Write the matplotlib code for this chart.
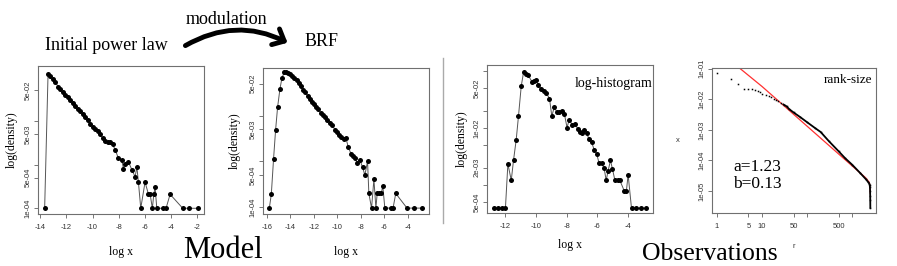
import numpy as np
import matplotlib.pyplot as plt
from matplotlib.patches import FancyArrowPatch
from matplotlib.lines import Line2D
from matplotlib.ticker import NullLocator

#==============================================================================#
# Dados (expoentes = log10 da densidade)
#==============================================================================#
# Initial power law
p1_x = [-13.67, -13.41, -13.23, -13.03, -12.85, -12.65, -12.47, -12.29, -12.09, -11.91,
        -11.70, -11.53, -11.32, -11.14, -10.94, -10.76, -10.56, -10.38, -10.17, -9.99,
        -9.79, -9.61, -9.41, -9.23, -9.03, -8.85, -8.64, -8.46, -8.26, -8.01,
        -7.75, -7.63, -7.50, -7.24, -6.98, -6.73, -6.60, -6.48, -6.30, -5.97,
        -5.71, -5.58, -5.41, -5.30, -5.20, -5.07, -4.57, -4.36, -4.05, -3.08,
        -2.58, -1.93]
p1_e = [-4.00, -0.93, -0.98, -1.05, -1.10, -1.22, -1.26, -1.35, -1.40, -1.46,
        -1.52, -1.59, -1.67, -1.73, -1.78, -1.84, -1.92, -1.99, -2.07, -2.13,
        -2.18, -2.23, -2.31, -2.39, -2.45, -2.48, -2.48, -2.54, -2.66, -2.86,
        -2.90, -3.09, -2.98, -2.94, -3.12, -3.28, -3.05, -3.40, -4.00, -3.40,
        -3.68, -3.68, -4.00, -3.68, -3.52, -4.00, -4.00, -4.00, -3.68, -4.00,
        -4.00, -4.00]

# BRF
p2_x = [-15.80, -15.63, -15.44, -15.27, -15.10, -14.90, -14.73, -14.53, -14.39, -14.22,
        -14.05, -13.88, -13.68, -13.46, -13.29, -13.12, -12.95, -12.75, -12.55, -12.38,
        -12.19, -11.99, -11.82, -11.62, -11.42, -11.25, -11.06, -10.86, -10.63, -10.46,
        -10.21, -10.07, -9.84, -9.67, -9.45, -9.28, -9.08, -8.85, -8.66, -8.49,
        -8.32, -8.09, -7.86, -7.67, -7.44, -7.33, -7.10, -6.90, -6.73, -6.62,
        -6.45, -6.28, -6.14, -5.97, -5.46, -5.27, -5.04, -4.08, -3.51, -2.78]
p2_e = [-4.02, -3.71, -2.94, -2.32, -1.82, -1.42, -1.18, -1.05, -1.05, -1.07,
        -1.10, -1.13, -1.18, -1.21, -1.29, -1.36, -1.43, -1.49, -1.56, -1.64,
        -1.71, -1.75, -1.80, -1.86, -1.94, -1.98, -2.03, -2.09, -2.15, -2.20,
        -2.31, -2.35, -2.42, -2.47, -2.51, -2.49, -2.69, -2.83, -2.89, -2.93,
        -3.04, -2.97, -3.13, -3.30, -3.00, -3.70, -4.02, -3.39, -4.02, -3.70,
        -3.70, -3.70, -3.54, -4.02, -4.02, -4.02, -3.70, -4.02, -4.02, -4.02]

# log-histogram (observações)
p3_x = [-12.76, -12.48, -12.22, -11.99, -11.83, -11.61, -11.46, -11.29, -11.14, -10.96,
        -10.81, -10.68, -10.53, -10.27, -10.12, -9.99, -9.84, -9.66, -9.51, -9.34,
        -9.12, -8.97, -8.80, -8.65, -8.50, -8.32, -8.15, -7.98, -7.83, -7.63,
        -7.46, -7.29, -7.14, -6.98, -6.85, -6.70, -6.55, -6.38, -6.21, -6.05,
        -5.90, -5.73, -5.56, -5.43, -5.30, -5.15, -5.02, -4.86, -4.69, -4.54,
        -4.26, -4.11, -4.00, -3.78, -3.46, -3.13, -2.81]
p3_e = [-3.41, -3.41, -3.41, -3.41, -2.63, -2.92, -2.56, -2.21, -1.79, -1.26,
        -1.02, -1.04, -1.06, -1.18, -1.17, -1.16, -1.25, -1.31, -1.35, -1.38,
        -1.48, -1.79, -1.62, -1.72, -1.72, -1.70, -1.75, -1.99, -1.85, -1.95,
        -1.92, -2.01, -2.07, -2.09, -2.04, -2.08, -2.20, -2.25, -2.38, -2.45,
        -2.61, -2.61, -2.71, -2.92, -2.75, -2.57, -2.72, -2.92, -2.92, -2.92,
        -3.10, -3.10, -2.82, -3.41, -3.41, -3.41, -3.41]

# rank-size
rank = [1, 2, 3, 4, 5, 6, 7, 8, 9, 10, 12, 14, 16, 18, 20, 23, 26, 30, 35, 40,
        50, 70, 100, 150, 200, 300, 500, 700, 1000, 1500, 2000, 2300, 2400, 2450,
        2480, 2500, 2510, 2520, 2530]
size_e = [-1.15, -1.35, -1.49, -1.65, -1.65, -1.67, -1.69, -1.74, -1.77, -1.81,
          -1.85, -1.89, -1.94, -1.98, -2.02, -2.06, -2.12, -2.17, -2.23, -2.32,
          -2.43, -2.58, -2.75, -2.94, -3.07, -3.36, -3.70, -3.93, -4.14, -4.41,
          -4.61, -4.72, -4.76, -4.80, -4.88, -5.00, -5.15, -5.30, -5.55]
fit_r = [3.0, 10, 30, 100, 300, 1000, 2000, 2400, 2500, 2530]
fit_e = [-0.95, -1.58, -2.20, -2.88, -3.50, -4.18, -4.57, -4.72, -4.89, -5.08]

#==============================================================================#
# Figura
#==============================================================================#
plt.rcParams['font.family'] = ['Liberation Serif', 'DejaVu Serif']
W, H = 897., 266.
fig = plt.figure(figsize=(W/100, H/100), dpi=100)

def eixo(l, t, r, b):
    ax = fig.add_axes([l/W, 1 - b/H, (r - l)/W, (b - t)/H])
    for s in ax.spines.values():
        s.set_color('#707070')
        s.set_linewidth(0.8)
    ax.tick_params(direction='out', length=3, width=0.6, color='#606060',
                   labelsize=5.5, labelcolor='#333333')
    return ax

def marcas(ax, xt, yt, ylab):
    ax.set_yscale('log')
    ax.set_xticks(xt)
    ax.set_xticklabels([str(v) for v in xt], family='Liberation Sans')
    ax.set_yticks(yt)
    ax.set_yticklabels(ylab, rotation=90, va='center', family='Liberation Sans')
    ax.yaxis.set_minor_locator(NullLocator())
    ax.tick_params(axis='x', pad=4)
    ax.tick_params(axis='y', pad=1.5)

def hist(ax, x, e):
    ax.plot(x, 10**np.array(e), '-', color='#555555', lw=0.7)
    ax.plot(x, 10**np.array(e), 'o', color='black', ms=3.6, mec='none')

# Painel 1
ax1 = eixo(38, 66, 204, 214)
hist(ax1, p1_x, p1_e)
marcas(ax1, [-14, -12, -10, -8, -6, -4, -2], [1e-4, 5e-4, 1e-3, 5e-3, 1e-2, 5e-2],
       ['1e-04', '5e-04', '', '5e-03', '', '5e-02'])
ax1.set_xlim(-14.18, -1.45)
ax1.set_ylim(7.4e-5, 0.18)
ax1.text(-0.157, 0.5, 'log(density)', rotation=90, fontsize=8.5, ha='center',
         va='center', transform=ax1.transAxes)
ax1.text(0.5, -0.257, 'log x', fontsize=8.5, ha='center', va='center',
         transform=ax1.transAxes)

# Painel 2
ax2 = eixo(263, 68, 429, 214)
hist(ax2, p2_x, p2_e)
marcas(ax2, [-16, -14, -12, -10, -8, -6, -4], [1e-4, 5e-4, 1e-3, 5e-3, 1e-2, 5e-2],
       ['1e-04', '5e-04', '', '5e-03', '', '5e-02'])
ax2.set_xlim(-16.34, -2.21)
ax2.set_ylim(7.1e-5, 0.110)
ax2.text(-0.169, 0.5, 'log(density)', rotation=90, fontsize=8.5, ha='center',
         va='center', transform=ax2.transAxes)
ax2.text(0.5, -0.26, 'log x', fontsize=8.5, ha='center', va='center',
         transform=ax2.transAxes)

# Painel 3
ax3 = eixo(487, 65, 653, 213)
hist(ax3, p3_x, p3_e)
marcas(ax3, [-12, -10, -8, -6, -4],
       [5e-4, 1e-3, 2e-3, 5e-3, 1e-2, 2e-2, 5e-2, 1e-1],
       ['5e-04', '', '2e-03', '', '1e-02', '', '5e-02', ''])
ax3.set_xlim(-13.19, -2.38)
ax3.set_ylim(3.2e-4, 0.129)
ax3.text(-0.15, 0.5, 'log(density)', rotation=90, fontsize=8.5, ha='center',
         va='center', transform=ax3.transAxes)
ax3.text(0.5, -0.216, 'log x', fontsize=8.5, ha='center', va='center',
         transform=ax3.transAxes)
ax3.text(0.995, 0.876, 'log-histogram', fontsize=10, ha='right', va='center',
         transform=ax3.transAxes)

# Painel 4
ax4 = eixo(712, 68, 876, 213)
ax4.set_xscale('log')
ax4.plot(fit_r, 10**np.array(fit_e), '-', color='#ff3030', lw=0.9)
ax4.plot(rank[17:], 10**np.array(size_e[17:]), '-', color='black', lw=1.3)
ax4.plot(rank, 10**np.array(size_e), 's', color='black', ms=1.1, mec='none')
marcas(ax4, [1, 5, 10, 50, 100, 500, 1000], [1e-5, 1e-4, 1e-3, 1e-2, 1e-1],
       ['1e-05', '1e-04', '1e-03', '1e-02', '1e-01'])
ax4.set_xticklabels(['1', '5', '10', '50', '', '500', ''], family='Liberation Sans')
ax4.xaxis.set_minor_locator(NullLocator())
ax4.set_xlim(0.775, 3380)
ax4.set_ylim(1.9e-6, 0.106)
ax4.text(0.98, 0.917, 'rank-size', fontsize=9.5, ha='right', va='center',
         transform=ax4.transAxes)
ax4.text(0.128, 0.317, 'a=1.23', fontsize=12.5, ha='left', va='center',
         transform=ax4.transAxes)
ax4.text(0.128, 0.2, 'b=0.13', fontsize=12.5, ha='left', va='center',
         transform=ax4.transAxes)
fig.text(678/W, 1 - 140/H, 'x', fontsize=5.5, family='Liberation Sans',
         color='#333333', ha='center', va='center')
fig.text(794/W, 1 - 246/H, 'r', fontsize=5.5, family='Liberation Sans',
         color='#333333', ha='center', va='center')

#==============================================================================#
# Textos e seta
#==============================================================================#
fig.text(45/W, 1 - 45/H, 'Initial power law', fontsize=13, ha='left', va='center')
fig.text(226/W, 1 - 20/H, 'modulation', fontsize=13, ha='center', va='center')
fig.text(305/W, 1 - 42/H, 'BRF', fontsize=13, ha='left', va='center')
seta = FancyArrowPatch((183/W, 1 - 47/H), (290/W, 1 - 44/H),
                       transform=fig.transFigure, connectionstyle='arc3,rad=-0.28',
                       arrowstyle='->,head_length=0.5,head_width=0.45',
                       lw=3.5, color='black', mutation_scale=14)
fig.add_artist(seta)
fig.add_artist(Line2D([443/W, 443/W], [1 - 58/H, 1 - 223/H], color='#aaaaaa',
                      lw=1, transform=fig.transFigure))
fig.text(183/W, 1/H, 'Model', fontsize=22, ha='left', va='bottom')
fig.text(642/W, 1/H, 'Observations', fontsize=18.5, ha='left', va='bottom')

fig.savefig('out.png', dpi=100)
